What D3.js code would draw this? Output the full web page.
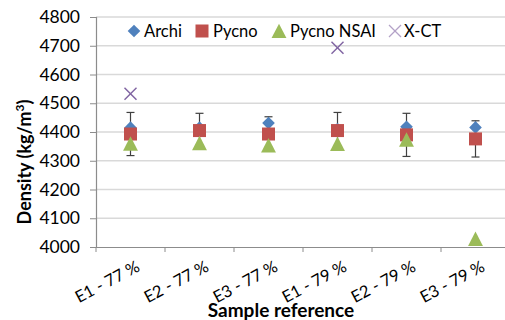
<!DOCTYPE html>
<html><head><meta charset="utf-8">
<script src="https://cdn.jsdelivr.net/npm/d3@7"></script>
<style>body{margin:0;background:#fff}svg{display:block}text{font-family:Lato,"Open Sans",sans-serif}</style>
</head><body><svg id="c" width="505" height="320"></svg>
<script>
const categories = ["E1 - 77 %","E2 - 77 %","E3 - 77 %","E1 - 79 %","E2 - 79 %","E3 - 79 %"];
const archi = [4415, 4415, 4431, 4410, 4418, 4416];
const pycno = [4393, 4405, 4393, 4405, 4390, 4376];
const pycnoErr = [75, 60, 60, 63, 75, 63];
const pycnoNSAI = [4356, 4358, 4350, 4355, 4370, 4025];
const xct = [4533, null, null, 4693, null, null];
const yTicks = [4000,4100,4200,4300,4400,4500,4600,4700,4800];
const seriesNames = ["Archi","Pycno","Pycno NSAI","X-CT"];
const colors = {archi:"#4F81BD", pycno:"#C0504D", nsai:"#9BBB59", xct:"#8064A2"};

const svg = d3.select("#c");
const L = 96, R = 510, T = 17, B = 247;
const x = d3.scaleBand().domain(categories).range([L, R]);
const y = d3.scaleLinear().domain([4000, 4800]).range([B, T]);

// gridlines
svg.append("g").selectAll("line").data(yTicks.slice(1)).join("line")
  .attr("x1", L).attr("x2", 505).attr("y1", d => y(d)).attr("y2", d => y(d))
  .attr("stroke", "#d9d9d9").attr("stroke-width", 1.5);

// y axis
const ya = svg.append("g").attr("transform", `translate(${L},0)`)
  .call(d3.axisLeft(y).tickValues(yTicks).tickSize(6).tickPadding(10).tickFormat(d3.format("d")));
ya.select(".domain").attr("stroke", "#8c8c8c").attr("stroke-width", 1.2);
ya.selectAll(".tick line").attr("stroke", "#8c8c8c");
ya.selectAll("text").attr("font-size", 17.5).attr("fill", "#000").attr("font-family", "Lato");

// x axis
const xa = svg.append("g").attr("transform", `translate(0,${B})`)
  .call(d3.axisBottom(x).tickSize(0).tickFormat(""));
xa.select(".domain").attr("stroke", "#8c8c8c").attr("stroke-width", 1.2);
svg.append("g").selectAll("line").data(categories).join("line")
  .attr("x1", d => x(d)).attr("x2", d => x(d)).attr("y1", B).attr("y2", B + 5)
  .attr("stroke", "#8c8c8c");
svg.append("g").selectAll("text").data(categories).join("text")
  .attr("transform", d => `translate(${x(d) + x.bandwidth()/2 + 5},${B + 13}) rotate(-28)`)
  .attr("text-anchor", "end").attr("dy", "0.7em").attr("font-size", 16.5).attr("fill", "#000")
  .text(d => d);

const cx = (d, i) => x(categories[i]) + x.bandwidth()/2;

// error bars on Pycno
const eb = svg.append("g").attr("stroke", "#404040").attr("stroke-width", 1.2);
pycno.forEach((v, i) => {
  const c = cx(v, i), y1 = y(v + pycnoErr[i]), y2 = y(v - pycnoErr[i]);
  eb.append("line").attr("x1", c).attr("x2", c).attr("y1", y1).attr("y2", y2);
  eb.append("line").attr("x1", c - 4).attr("x2", c + 4).attr("y1", y1).attr("y2", y1);
  eb.append("line").attr("x1", c - 4).attr("x2", c + 4).attr("y1", y2).attr("y2", y2);
});

// markers
const diamond = d3.symbol().type(d3.symbolSquare).size(80);
svg.append("g").selectAll("path").data(archi).join("path")
  .attr("d", diamond()).attr("transform", (d, i) => `translate(${cx(d, i)},${y(d)}) rotate(45)`)
  .attr("fill", colors.archi);
svg.append("g").selectAll("rect").data(pycno).join("rect")
  .attr("x", (d, i) => cx(d, i) - 6.5).attr("y", d => y(d) - 6.5).attr("width", 13).attr("height", 13)
  .attr("fill", colors.pycno);
const tri = (c, yy, s) => `M${c},${yy - s*0.62}L${c + s*0.55},${yy + s*0.45}L${c - s*0.55},${yy + s*0.45}Z`;
svg.append("g").selectAll("path").data(pycnoNSAI).join("path")
  .attr("d", (d, i) => tri(cx(d, i), y(d), 13.5)).attr("fill", colors.nsai);
const xg = svg.append("g").attr("stroke", colors.xct).attr("stroke-width", 1.5);
xct.forEach((v, i) => {
  if (v == null) return;
  const c = cx(v, i), yy = y(v);
  xg.append("line").attr("x1", c - 6).attr("x2", c + 6).attr("y1", yy - 6).attr("y2", yy + 6);
  xg.append("line").attr("x1", c - 6).attr("x2", c + 6).attr("y1", yy + 6).attr("y2", yy - 6);
});

// legend
const lg = svg.append("g");
const lx = [134, 202, 279, 395], ltx = [144, 213, 290, 404], ly = 31;
lg.append("path").attr("d", diamond()).attr("transform", `translate(${lx[0]},${ly}) rotate(45)`).attr("fill", colors.archi);
lg.append("rect").attr("x", lx[1] - 6.5).attr("y", ly - 6.5).attr("width", 13).attr("height", 13).attr("fill", colors.pycno);
lg.append("path").attr("d", tri(lx[2], ly + 1, 13.5)).attr("fill", colors.nsai);
lg.append("line").attr("x1", lx[3]-6).attr("x2", lx[3]+6).attr("y1", ly-6).attr("y2", ly+6).attr("stroke", "#b3a2c7").attr("stroke-width", 1.3);
lg.append("line").attr("x1", lx[3]-6).attr("x2", lx[3]+6).attr("y1", ly+6).attr("y2", ly-6).attr("stroke", "#b3a2c7").attr("stroke-width", 1.3);
lg.selectAll("text").data(seriesNames).join("text")
  .attr("x", (d, i) => ltx[i]).attr("y", ly).attr("dy", "0.35em").attr("font-size", 16.5).attr("fill", "#000")
  .text(d => d);

// axis titles
const yt = svg.append("text").attr("transform", "translate(31,162) rotate(-90)")
  .attr("text-anchor", "middle").attr("font-size", 18).attr("font-weight", "bold").attr("fill", "#000");
yt.append("tspan").text("Density (kg/m");
yt.append("tspan").attr("dy", -7).attr("font-size", 12).text("3");
yt.append("tspan").attr("dy", 7).text(")");
svg.append("text").attr("x", 281).attr("y", 317).attr("text-anchor", "middle")
  .attr("font-size", 19).attr("font-weight", "bold").attr("fill", "#000").text("Sample reference");
</script></body></html>
